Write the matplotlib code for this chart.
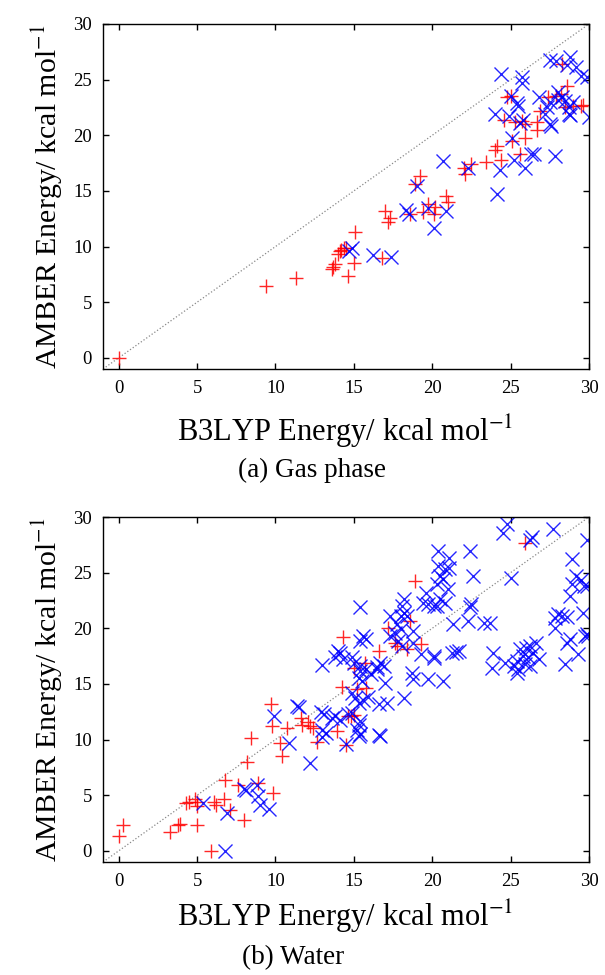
import numpy as np
import matplotlib.pyplot as plt

plt.rcParams['font.family'] = ['Liberation Serif', 'DejaVu Serif']
plt.rcParams['mathtext.fontset'] = 'stix'

# (a) gas phase: red "+" points
gas_red_x = [0.0, 9.4, 11.3, 13.6, 13.7, 13.8, 14.0, 14.1, 14.2, 14.4, 14.5, 14.6, 15.0, 15.1,
             16.8, 17.0, 17.2, 17.3, 18.6, 18.9, 19.2, 19.4, 19.7, 20.1, 20.2, 20.9, 21.0,
             22.0, 22.1, 22.5, 23.4, 24.0, 24.1, 24.4, 24.6, 24.8, 25.0, 25.1, 25.3, 25.6,
             25.7, 25.9, 25.9, 26.7, 26.7, 26.9, 27.4, 27.9, 28.2, 28.3, 28.5, 28.6, 29.0,
             29.5, 29.6]
gas_red_y = [0.0, 6.5, 7.2, 8.0, 8.2, 8.4, 9.3, 9.6, 9.7, 9.9, 9.9, 7.4, 8.5, 11.3,
             9.0, 13.2, 12.2, 12.6, 12.9, 15.6, 16.3, 13.1, 13.8, 12.9, 13.6, 14.5, 14.0,
             17.1, 16.5, 17.4, 17.6, 18.7, 19.0, 17.8, 21.4, 23.4, 23.5, 19.5, 21.2, 18.3,
             21.3, 19.8, 21.0, 21.2, 20.5, 22.2, 23.4, 23.5, 23.7, 26.4, 22.5, 24.4, 22.6,
             22.6, 22.7]

# (a) gas phase: blue "x" points
gas_blue_x = [14.7, 14.9, 16.2, 17.4, 18.3, 18.5, 19.0, 19.7, 20.1, 20.7, 20.9, 22.3, 24.0,
              24.1, 24.3, 24.4, 24.9, 25.0, 25.1, 25.2, 25.4, 25.5, 25.6, 25.7, 25.7, 25.8,
              25.9, 26.3, 26.5, 26.8, 27.2, 27.3, 27.5, 27.5, 27.6, 27.5, 27.8, 27.9, 28.0,
              28.0, 28.3, 28.5, 28.6, 28.7, 28.8, 28.8, 29.0, 29.2, 29.5, 29.9, 30.0, 28.7]
gas_blue_y = [9.6, 9.9, 9.2, 9.1, 13.3, 12.9, 15.4, 13.5, 11.7, 17.7, 13.2, 17.1, 21.9,
              14.7, 16.9, 25.5, 21.7, 23.5, 19.8, 17.8, 22.9, 22.6, 21.1, 25.2, 24.7, 21.4,
              17.1, 18.3, 18.3, 23.4, 21.9, 22.5, 21.0, 23.0, 20.8, 26.8, 18.1, 26.7, 23.9,
              23.2, 23.4, 23.1, 26.3, 22.5, 21.8, 27.0, 23.0, 26.1, 25.3, 25.2, 21.6, 21.9]

# (b) water: red "+" points
wat_red_x = [0.0, 0.3, 3.25, 3.8, 3.9, 5.0, 5.9, 4.3, 4.5, 4.9, 5.0, 5.0, 6.05, 6.2, 6.7,
             6.8, 7.1, 7.6, 8.0, 8.2, 8.45, 8.9, 9.85, 9.8, 9.7, 10.3, 10.4, 10.75, 11.6,
             11.7, 12.1, 12.2, 12.4, 12.65, 13.9, 14.5, 14.6, 14.25, 14.3, 15.2, 15.8, 14.8,
             15.0, 15.0, 15.7, 16.6, 17.2, 17.65, 17.75, 18.4, 18.6, 19.3, 18.9, 25.9]
wat_red_y = [1.3, 2.3, 1.7, 2.3, 2.4, 2.3, 0.0, 4.3, 4.4, 4.7, 4.4, 4.0, 4.4, 4.1, 4.7,
             6.4, 3.7, 5.9, 2.8, 8.0, 10.1, 6.1, 5.2, 11.2, 13.2, 9.7, 8.5, 11.05, 11.9,
             11.35, 11.6, 11.2, 11.0, 9.8, 10.8, 9.5, 12.1, 14.7, 19.2, 14.5, 14.6, 12.1,
             12.2, 16.45, 16.9, 17.95, 20.05, 18.7, 18.4, 18.1, 20.65, 18.6, 24.25, 27.7]

# (b) water: blue "x" points
wat_blue_x = [6.8, 5.4, 6.9, 8.0, 8.1, 8.8, 8.9, 9.0, 9.6, 9.9, 10.85, 11.4, 11.5, 12.2,
              12.9, 13.0, 13.0, 13.0, 13.1, 13.2, 13.6, 13.8, 14.1, 13.8, 14.0, 14.1, 14.3,
              14.5, 14.6, 14.9, 14.9, 15.0, 14.9, 15.1, 15.2, 15.3, 15.4, 15.3, 15.4, 15.3,
              15.6, 15.3, 15.5, 15.4, 15.4, 15.4, 15.4, 15.6, 15.8, 15.8, 16.1, 15.9, 16.5,
              16.7, 16.9, 16.5, 16.6, 17.1, 16.6, 17.0, 17.3, 17.3, 17.6, 17.75, 18.0, 17.8,
              18.1, 18.1, 18.2, 18.4, 18.2, 18.0, 18.2, 18.7, 18.8, 18.8, 18.8, 19.3, 19.4,
              19.6, 19.7, 20.1, 19.7, 20.7, 20.1, 20.1, 20.3, 20.5, 20.8, 20.3, 20.4, 20.8,
              20.5, 20.7, 21.0, 21.1, 20.4, 21.1, 21.25, 21.5, 21.7, 21.35, 22.3, 22.4, 22.5,
              22.4, 22.6, 23.3, 23.7, 23.9, 23.8, 24.65, 24.5, 24.75, 25.0, 25.2, 25.4, 25.5,
              25.4, 25.6, 25.8, 25.9, 26.0, 26.1, 26.25, 26.25, 26.45, 26.65, 26.8, 26.25,
              26.35, 27.7, 27.8, 28.0, 28.3, 28.6, 27.8, 28.6, 28.8, 28.5, 28.9, 28.8, 28.9,
              29.2, 29.5, 29.7, 29.85, 29.6, 29.75, 29.85, 29.95, 29.3, 29.85, 16.7]
wat_blue_y = [0.0, 4.3, 3.4, 5.6, 5.5, 5.9, 4.9, 4.1, 3.8, 12.1, 9.7, 13.0, 12.9, 7.9,
              12.5, 10.9, 10.2, 16.7, 12.3, 10.6, 11.9, 12.1, 11.8, 17.4, 17.95, 17.8, 17.2,
              9.6, 12.3, 12.4, 17.4, 16.9, 14.2, 13.75, 10.9, 11.3, 11.65, 10.3, 10.5, 13.3,
              13.6, 15.5, 15.25, 16.6, 16.2, 21.95, 18.9, 19.3, 19.0, 16.3, 15.9, 13.8, 16.5,
              16.9, 16.6, 16.3, 13.2, 13.3, 10.4, 15.1, 21.1, 19.3, 19.6, 20.4, 19.9, 18.9,
              18.4, 22.0, 21.4, 21.1, 22.6, 21.1, 13.75, 16.0, 19.75, 18.7, 15.4, 17.7, 22.3,
              23.2, 22.2, 22.0, 15.4, 15.25, 17.35, 17.5, 22.0, 22.6, 22.3, 24.0, 25.6, 25.3,
              24.7, 24.4, 23.5, 25.45, 26.95, 26.35, 17.8, 17.9, 17.95, 20.35, 20.65, 21.9, 22.2,
              26.95, 24.7, 20.5, 20.5, 17.8, 16.45, 16.9, 28.6, 29.35, 24.55, 16.6, 17.05, 16.3,
              16.0, 18.1, 17.5, 16.75, 18.25, 17.4, 18.4, 16.6, 17.8, 18.7, 17.2, 27.9,
              28.2, 28.9, 20.95, 21.3, 21.1, 21.0, 20.05, 18.7, 19.0, 16.75, 26.2, 22.9, 23.95,
              24.7, 24.3, 23.8, 23.8, 21.4, 19.3, 19.5, 19.3, 17.65, 27.9, 10.3]

ticks = [0, 5, 10, 15, 20, 25, 30]

fig = plt.figure(figsize=(6.05, 9.75), dpi=100)
ax_a = fig.add_axes([103 / 605, 1 - 369 / 975, 486 / 605, 345 / 975])
ax_b = fig.add_axes([103 / 605, 1 - 862 / 975, 486 / 605, 345 / 975])

panels = [
    (ax_a, gas_red_x, gas_red_y, gas_blue_x, gas_blue_y),
    (ax_b, wat_red_x, wat_red_y, wat_blue_x, wat_blue_y),
]
for ax, rx, ry, bx, by in panels:
    ax.plot([-1, 30], [-1, 30], ls=':', color='#888888', lw=0.9)
    ax.plot(rx, ry, ls='none', marker='+', ms=9.5, mew=1.0, color='#ff0000', alpha=0.85)
    ax.plot(bx, by, ls='none', marker='x', ms=9.5, mew=1.0, color='#0000ff', alpha=0.85)
    ax.set_xlim(-1, 30)
    ax.set_ylim(-1, 30)
    ax.set_xticks(ticks)
    ax.set_yticks(ticks)
    ax.tick_params(direction='in', length=4, width=1, top=True, right=True,
                   labelsize=13.5, pad=8)
    for s in ax.spines.values():
        s.set_linewidth(1.0)
    ax.set_ylabel('AMBER Energy/ kcal mol$^{-1}$', fontsize=21.5, labelpad=6)

fig.text(345 / 605, 1 - 431 / 975, 'B3LYP Energy/ kcal mol$^{-1}$', fontsize=22,
         ha='center', va='center')
fig.text(312 / 605, 1 - 470 / 975, '(a) Gas phase', fontsize=19.5, ha='center', va='center')
fig.text(345 / 605, 1 - 916 / 975, 'B3LYP Energy/ kcal mol$^{-1}$', fontsize=22,
         ha='center', va='center')
fig.text(293 / 605, 1 - 958 / 975, '(b) Water', fontsize=19.5, ha='center', va='center')

fig.savefig('out.png', dpi=100)
